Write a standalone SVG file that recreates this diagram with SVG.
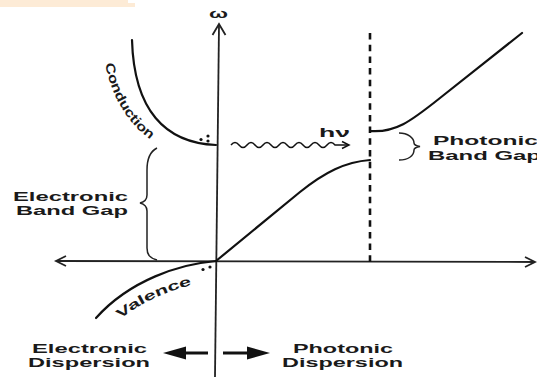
<svg xmlns="http://www.w3.org/2000/svg" width="537" height="377" viewBox="0 0 537 377">
<style>
.t{font-family:"Liberation Sans",Arial,sans-serif;font-weight:bold;font-size:13px;fill:#1a1a1a;}
.c{fill:none;stroke:#111;stroke-width:2.2;stroke-linecap:round;stroke-linejoin:round;}
.ax{fill:none;stroke:#222;stroke-width:1.8;}
.br{fill:none;stroke:#222;stroke-width:1.5;}
.dot{fill:#111;}
</style>
<rect width="537" height="377" fill="#ffffff"/>
<path d="M0,0 H128 V3 H135 V7 H0 Z" fill="#fdebd6"/>

<g id="axes">
  <path class="ax" d="M219,25 L215,377"/>
  <path class="ax" d="M212.5,35 L219,24 L225.5,35" stroke-width="2.2"/>
  <path class="ax" d="M56,261 L535,262"/>
  <path class="ax" d="M66,256 L56,261 L66,266"/>
  <path class="ax" d="M525,257 L535,262 L525,267"/>
  <text class="t" x="209" y="18" font-size="12" textLength="19" lengthAdjust="spacingAndGlyphs">ω</text>
</g>

<g id="dashed-line">
  <path d="M370,33 V262" fill="none" stroke="#111" stroke-width="2.6" stroke-dasharray="6.5,5.2"/>
</g>

<g id="conduction">
  <path class="c" d="M132,40 C134,110 165,143 216,145"/>
  <circle class="dot" cx="201" cy="139.5" r="1.6"/>
  <circle class="dot" cx="208" cy="136" r="1.6"/>
  <circle class="dot" cx="208" cy="141" r="1.6"/>
  <path id="condPath" d="M105,64 Q118,126 168,150" fill="none"/>
  <text class="t" font-size="15.5"><textPath href="#condPath" textLength="90" lengthAdjust="spacingAndGlyphs">Conduction</textPath></text>
</g>

<g id="valence">
  <path class="c" d="M216,261 C180,264 130,280 96,318"/>
  <circle class="dot" cx="203" cy="269.5" r="1.6"/>
  <circle class="dot" cx="210" cy="267" r="1.6"/>
  <path id="valPath" d="M120,319 Q154,293 200,283" fill="none"/>
  <text class="t" font-size="15"><textPath href="#valPath" textLength="80" lengthAdjust="spacingAndGlyphs">Valence</textPath></text>
</g>

<g id="photon-lower">
  <path class="c" d="M216,261 L300,192 C325,172 345,162 370,160"/>
</g>

<g id="photon-upper">
  <path class="c" d="M370,131 C395,133 410,122 440,98 L522,33"/>
</g>

<g id="photon-hv">
  <path d="M231,145 q4,-5 8,0 t8,0 t8,0 t8,0 t8,0 t8,0 t8,0 t8,0 t8,0 t8,0 t8,0 t8,0 t8,0 L349,145" fill="none" stroke="#111" stroke-width="1.5"/>
  <path d="M342,141.5 L349,145 L342,148.5" fill="none" stroke="#111" stroke-width="1.5"/>
  <text class="t" x="319" y="137" font-size="15" textLength="31" lengthAdjust="spacingAndGlyphs">hν</text>
</g>

<g id="electronic-gap">
  <path class="br" d="M157,148 C149,152 147,160 147,170 L147,195 C147,200 144,202 140,203 C144,204 147,206 147,211 L147,248 C147,255 150,258 157,260"/>
  <text class="t" x="13" y="200.5" textLength="115" lengthAdjust="spacingAndGlyphs">Electronic</text>
  <text class="t" x="16" y="215" textLength="112" lengthAdjust="spacingAndGlyphs">Band Gap</text>
</g>

<g id="photonic-gap">
  <path class="br" d="M399,133 C408,133 414,138 414,143 C414,145 417,146 420,146.5 C417,147 414,148 414,150 C414,156 408,160 399,160"/>
  <text class="t" x="433" y="145" textLength="105" lengthAdjust="spacingAndGlyphs">Photonic</text>
  <text class="t" x="428" y="159.6" textLength="113" lengthAdjust="spacingAndGlyphs">Band Gap</text>
</g>

<g id="electronic-dispersion">
  <text class="t" x="32" y="352.5" textLength="115" lengthAdjust="spacingAndGlyphs">Electronic</text>
  <text class="t" x="28" y="367.1" textLength="122" lengthAdjust="spacingAndGlyphs">Dispersion</text>
  <path d="M208,353 H184" stroke="#111" stroke-width="3"/>
  <path d="M163,353 L186,346.5 L186,359.5 Z" fill="#111"/>
</g>

<g id="photonic-dispersion">
  <text class="t" x="293" y="352.5" textLength="100" lengthAdjust="spacingAndGlyphs">Photonic</text>
  <text class="t" x="282" y="367.1" textLength="121" lengthAdjust="spacingAndGlyphs">Dispersion</text>
  <path d="M223,353 H249" stroke="#111" stroke-width="3"/>
  <path d="M270,353 L247,346.5 L247,359.5 Z" fill="#111"/>
</g>
</svg>
